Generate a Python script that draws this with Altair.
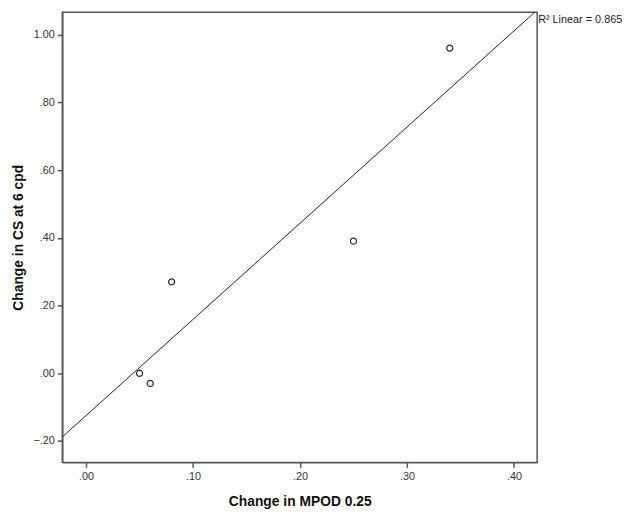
import altair as alt
import pandas as pd

# Data
mpod_change = [0.05, 0.06, 0.08, 0.25, 0.34]
cs_change = [0.00, -0.03, 0.27, 0.39, 0.96]
x_ticks = [0.0, 0.1, 0.2, 0.3, 0.4]
y_ticks = [-0.2, 0.0, 0.2, 0.4, 0.6, 0.8, 1.0]
x_domain = [-0.0222, 0.4217]
y_domain = [-0.263, 1.066]
r2_label = "R\u00b2 Linear = 0.865"

df = pd.DataFrame({"x": mpod_change, "y": cs_change})

label_expr = "replace(format(datum.value, '.2f'), '0.', '.')"

x_enc = alt.X(
    "x:Q",
    scale=alt.Scale(domain=x_domain, nice=False, zero=False),
    axis=alt.Axis(
        values=x_ticks,
        labelExpr=label_expr,
        title="Change in MPOD 0.25",
        titleY=44,
        titleBaseline="alphabetic",
    ),
)
y_enc = alt.Y(
    "y:Q",
    scale=alt.Scale(domain=y_domain, nice=False, zero=False),
    axis=alt.Axis(
        values=y_ticks,
        labelExpr=label_expr,
        title="Change in CS at 6 cpd",
        titleX=-44,
        titleBaseline="middle",
    ),
)

base = alt.Chart(df)

line = base.transform_regression("x", "y", extent=x_domain).mark_line(
    color="#222", strokeWidth=1, clip=True
).encode(x=x_enc, y=y_enc)

points = base.mark_point(
    shape="circle", filled=False, color="#333", size=38, strokeWidth=1.3, opacity=1
).encode(x=x_enc, y=y_enc)

label = alt.Chart(pd.DataFrame({"t": [r2_label]})).mark_text(
    align="left", baseline="alphabetic", font="Liberation Sans", fontSize=11,
    color="#222", clip=False
).encode(x=alt.value(482), y=alt.value(11), text="t:N")

chart = alt.layer(line, points, label).properties(
    width=481,
    height=456,
    autosize=alt.AutoSizeParams(type="none"),
    padding={"left": 55, "top": 1, "right": 89, "bottom": 46},
    background="white",
).configure_view(
    stroke="#555", strokeWidth=1.5
).configure_axis(
    grid=False,
    domainColor="#555",
    domainWidth=1.5,
    tickColor="#555",
    tickWidth=1.5,
    tickSize=5,
    labelFont="Liberation Sans",
    labelFontSize=11,
    labelColor="#333",
    labelPadding=3,
    titleFont="Liberation Sans",
    titleFontSize=14,
    titleFontWeight="bold",
    titleColor="#111",
)

chart.save("out.html", embed_options={"renderer": "svg", "actions": False})
